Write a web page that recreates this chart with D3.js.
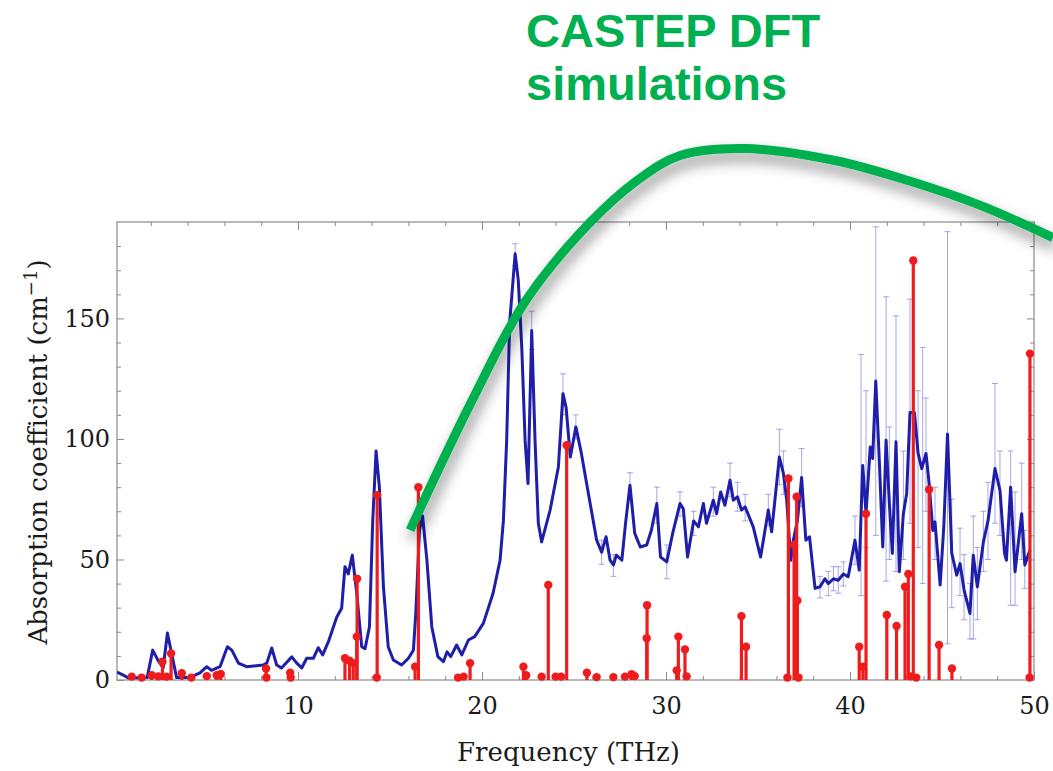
<!DOCTYPE html>
<html>
<head>
<meta charset="utf-8">
<script src="https://cdn.jsdelivr.net/npm/d3@7"></script>
<style>
  body { margin: 0; background: #fff; }
  .tick-label text { font-family: 'DejaVu Serif', serif; font-size: 24px; fill: #1a1a1a; }
  .axis-title { font-family: 'DejaVu Serif', serif; font-size: 26px; fill: #1a1a1a; }
  .note { font-family: 'Liberation Sans', Arial, sans-serif; font-weight: bold; font-size: 47px; fill: #00b050; }
</style>
</head>
<body>
<div id="chart"></div>
<script>
// measured spectrum (blue)
var blueFreq = [0.16, 0.5, 0.8, 1.8, 2.1, 2.4, 2.67, 2.9, 3.13, 3.4, 4.1, 4.67, 5.04, 5.3, 5.76, 6.16, 6.4, 6.76, 7.2, 8.1,
  8.3, 8.57, 8.84, 9.1, 9.66, 9.93, 10.2, 10.47, 10.83, 11.1, 11.34, 11.65, 12.1, 12.37, 12.55, 12.73, 12.95, 13.19, 13.46, 13.64,
  13.88, 14.06, 14.24, 14.42, 14.64, 14.9, 15.18, 15.63, 16.0, 16.27, 16.4, 16.6, 16.77, 17.0, 17.27, 17.6, 17.9, 18.1, 18.3, 18.62,
  18.9, 19.26, 19.6, 20.07, 20.6, 20.98, 21.16, 21.34, 21.5, 21.8, 21.97, 22.16, 22.34, 22.5, 22.7, 22.88, 23.06, 23.24, 23.7, 24.15,
  24.4, 24.57, 24.8, 25.1, 25.4, 25.78, 26.23, 26.5, 26.74, 26.96, 27.14, 27.3, 27.6, 27.8, 28.04, 28.3, 28.6, 28.95, 29.2, 29.5,
  29.7, 30.04, 30.36, 30.76, 30.94, 31.17, 31.5, 31.76, 32.03, 32.2, 32.57, 32.75, 32.97, 33.2, 33.48, 33.66, 33.88, 34.1, 34.3, 34.74,
  35.14, 35.56, 35.74, 36.16, 36.38, 36.56, 36.78, 36.92, 37.14, 37.37, 37.6, 37.8, 38.1, 38.37, 38.64, 38.82, 39.1, 39.36, 39.64, 39.9,
  40.27, 40.5, 40.69, 40.87, 41.1, 41.23, 41.4, 41.6, 41.78, 41.96, 42.14, 42.3, 42.5, 42.68, 42.9, 43.08, 43.26, 43.5, 43.7, 43.9,
  44.13, 44.3, 44.5, 44.62, 44.9, 45.1, 45.3, 45.53, 45.8, 45.98, 46.2, 46.52, 46.7, 46.92, 47.25, 47.5, 47.88, 48.15, 48.4, 48.5,
  48.73, 48.97, 49.33, 49.5, 49.78];
var blueAbs = [3.3, 2, 0.8, 1, 12.4, 8, 5, 19.5, 11, 1, 1, 3, 5.5, 4, 5.5, 13.8, 12.4, 7, 5.5, 6.2,
  7, 13.3, 6.2, 5, 9.6, 7, 5, 9, 9, 13.4, 10.4, 15.9, 26, 29.8, 47, 44, 51.8, 36, 13.8, 13,
  22, 66, 95, 80, 38.7, 13.8, 8.3, 6.2, 9, 12.4, 27.6, 62, 68, 50, 22, 9.7, 7.6, 11.7, 9.7, 14.5,
  10.4, 16.6, 18, 23.5, 36, 49.7, 66, 99.5, 148, 176.8, 165.8, 138, 99.5, 81.5, 145, 99.5, 65, 57.3, 70.5, 88.4,
  118.8, 113, 92.5, 105, 94, 77.4, 58, 53, 59.4, 49.7, 47.7, 51.8, 49.7, 65, 80.8, 60.8, 55.2, 56, 62, 73.2,
  51, 49, 60.8, 73.2, 71, 51, 66, 63.5, 73.2, 65, 74.6, 69, 78, 72.5, 82.9, 74.6, 76, 70.5, 71.8, 63.5,
  51, 70.5, 61.5, 92.5, 85.7, 74.6, 49.7, 58, 66, 84, 58, 59.4, 38, 38.7, 42, 40, 42, 41.4, 44, 42.8,
  58, 45.6, 89, 69, 96.7, 91.9, 124, 89.8, 55.2, 99.5, 73.2, 52.5, 98.8, 44.9, 69, 77.4, 111, 111, 94, 87.7,
  94, 81.5, 62, 65.6, 39.4, 64, 102, 52.5, 43.5, 48.3, 37.3, 27.6, 51.8, 38.7, 57.3, 66, 87.7, 78.7, 52.5, 49.7,
  80, 44.9, 69, 47.7, 53.9];

// error bars on the measured spectrum
var errFreq = [21.8, 22.7, 24.4, 25.1, 26.5, 27.14, 28.04, 29.5, 30.04, 30.76, 31.5, 32.57, 33.48, 33.88, 34.3, 35.56, 36.16, 36.38, 37.37, 38.37,
  38.82, 39.1, 39.36, 39.64, 40.27, 40.6, 40.87, 41.4, 41.96, 42.14, 42.5, 42.9, 43.26, 43.7, 43.95, 44.13, 44.62, 45.3, 45.53, 45.98,
  46.2, 46.52, 46.7, 46.92, 47.25, 47.5, 47.88, 48.15, 48.73, 48.97, 49.33, 49.5];
var errLow = [172, 137, 110, 100, 48, 43, 75, 65, 42, 68, 60, 68, 76, 70, 66, 64, 81, 77, 72, 34,
  35, 37, 36, 39, 48, 35, 55, 60, 41, 50, 45, 50, 65, 55, 40, 70, 50, 15, 30, 35,
  25, 17, 17, 25, 45, 50, 65, 60, 31, 31, 50, 38];
var errHigh = [181, 153, 127, 110, 58, 52, 86, 80, 56, 78, 70, 80, 90, 82, 77, 77, 104, 95, 96, 43,
  45, 47, 47, 49, 68, 135, 120, 188, 159, 105, 151, 95, 158, 120, 138, 117, 80, 186, 75, 63,
  52, 40, 68, 55, 70, 82, 123, 95, 95, 78, 90, 62];

// CASTEP DFT modes (red stems)
var stemFreq = [0.96, 1.5, 2.05, 2.4, 2.63, 2.86, 3.1, 3.68, 4.2, 5.04, 5.58, 5.8, 8.26, 8.28, 9.57, 9.6, 12.55, 12.8, 13.0, 13.19,
  13.21, 14.28, 14.3, 16.36, 16.54, 18.7, 19.0, 19.35, 22.25, 22.4, 23.24, 23.6, 24.0, 24.3, 24.6, 25.7, 26.23, 27.14, 27.77, 28.13,
  28.3, 28.95, 28.97, 30.58, 30.67, 31.03, 31.12, 34.1, 34.35, 36.6, 36.65, 36.96, 37.1, 37.14, 37.2, 40.5, 40.7, 40.87, 42.0, 42.53,
  42.99, 43.17, 43.3, 43.44, 43.6, 44.3, 44.84, 45.54, 49.76, 49.78];
var stemAbs = [1.4, 1, 2, 1.5, 7.6, 1.4, 11, 2.8, 1, 1.6, 2, 2.5, 4.8, 1, 3, 1, 9, 8, 7, 18,
  42, 1, 76.7, 5.5, 80, 1, 1.4, 7, 5.5, 2, 1.4, 39.4, 1.4, 1.4, 97.4, 3, 1.2, 1.2, 1.4, 2.4,
  1.6, 17.3, 31, 4, 18, 12.7, 1.5, 26.5, 13.8, 1, 83.6, 56, 76, 33, 1, 13.8, 5.5, 69, 27, 22.4,
  38.7, 44, 1.5, 174, 1, 79, 14.5, 4.8, 1, 135.4];

var xTicks = [10, 20, 30, 40, 50];
var xMinorTicks = [2, 4, 6, 8, 12, 14, 16, 18, 22, 24, 26, 28, 32, 34, 36, 38, 42, 44, 46, 48];
var yTicks = [0, 50, 100, 150];
var yMinorTicks = [10, 20, 30, 40, 60, 70, 80, 90, 110, 120, 130, 140, 160, 170, 180];

// green annotation curve, in data units
var noteFreq = [16.09, 19.46, 22.39, 25.87, 28.42, 30.76, 34.29, 39.18, 43.15, 47.12, 51.03];
var noteAbs = [62.2, 116, 157.5, 189.8, 207.2, 217.6, 220.5, 215.5, 207.2, 196.8, 183.5];
var noteLines = ['CASTEP DFT', 'simulations'];

var margin = { top: 222, right: 19, bottom: 91, left: 117 },
    width = 1053 - margin.left - margin.right,
    height = 771 - margin.top - margin.bottom;

var svg = d3.select('#chart').append('svg')
    .attr('width', 1053)
    .attr('height', 771);

var defs = svg.append('defs');

defs.append('clipPath')
    .attr('id', 'plot-clip')
    .append('rect')
    .attr('width', width)
    .attr('height', height);

// the curve lives inside the translated plot group, so the region is shifted back
defs.append('filter')
    .attr('id', 'shadow')
    .attr('filterUnits', 'userSpaceOnUse')
    .attr('x', -margin.left).attr('y', -margin.top)
    .attr('width', 1053).attr('height', 771)
    .append('feDropShadow')
    .attr('dx', 3)
    .attr('dy', 8)
    .attr('stdDeviation', 7)
    .attr('flood-color', '#000')
    .attr('flood-opacity', 0.45);

var plot = svg.append('g')
    .attr('transform', 'translate(' + margin.left + ',' + margin.top + ')');

var x = d3.scaleLinear()
    .domain([0.16, 50])
    .range([0, width]);

var y = d3.scaleLinear()
    .domain([0, 190])
    .range([height, 0]);

var drawAxes = function () {
  var tickColor = '#8a8a8a';

  var addAxis = function (axis, transform, cls) {
    var g = plot.append('g')
        .attr('class', cls || '')
        .attr('transform', transform)
        .call(axis);
    g.select('.domain').remove();
    g.selectAll('.tick line').attr('stroke', tickColor);
    return g;
  };

  addAxis(d3.axisBottom(x).tickValues(xTicks).tickSizeInner(-8).tickPadding(17)
      .tickFormat(d3.format('d')), 'translate(0,' + height + ')', 'tick-label');
  addAxis(d3.axisBottom(x).tickValues(xMinorTicks).tickSizeInner(-4).tickFormat(''),
      'translate(0,' + height + ')');
  addAxis(d3.axisTop(x).tickValues(xTicks).tickSizeInner(-8).tickFormat(''), 'translate(0,0)');
  addAxis(d3.axisTop(x).tickValues(xMinorTicks).tickSizeInner(-4).tickFormat(''), 'translate(0,0)');

  addAxis(d3.axisLeft(y).tickValues(yTicks).tickSizeInner(-7).tickPadding(7)
      .tickFormat(d3.format('d')), 'translate(0,0)', 'tick-label');
  addAxis(d3.axisLeft(y).tickValues(yMinorTicks).tickSizeInner(-4).tickFormat(''), 'translate(0,0)');
  addAxis(d3.axisRight(y).tickValues(yTicks).tickSizeInner(-7).tickFormat(''), 'translate(' + width + ',0)');
  addAxis(d3.axisRight(y).tickValues(yMinorTicks).tickSizeInner(-4).tickFormat(''), 'translate(' + width + ',0)');

  plot.append('rect')
      .attr('width', width)
      .attr('height', height)
      .attr('fill', 'none')
      .attr('stroke', tickColor)
      .attr('stroke-width', 1.2);

  plot.append('text')
      .attr('class', 'axis-title')
      .attr('x', width / 2 - 7)
      .attr('y', height + 81)
      .attr('text-anchor', 'middle')
      .text('Frequency (THz)');

  var yTitle = plot.append('text')
      .attr('class', 'axis-title')
      .attr('transform', 'translate(-70,' + (height / 2 + 1) + ') rotate(-90)')
      .attr('text-anchor', 'middle');
  yTitle.append('tspan').text('Absorption coefficient (cm');
  yTitle.append('tspan').attr('dy', -10).style('font-size', '18px').text('\u22121');
  yTitle.append('tspan').attr('dy', 10).text(')');
}

var drawErrorBars = function () {
  var g = plot.append('g')
      .attr('clip-path', 'url(#plot-clip)')
      .attr('stroke', '#6a6ad8')
      .attr('stroke-opacity', 0.6)
      .attr('stroke-width', 1);

  var bars = g.selectAll('.err')
      .data(errFreq)
      .enter()
      .append('g')
      .attr('class', 'err');

  bars.append('line')
      .attr('x1', function (d) { return x(d); })
      .attr('x2', function (d) { return x(d); })
      .attr('y1', function (d, i) { return y(errLow[i]); })
      .attr('y2', function (d, i) { return y(errHigh[i]); });

  [errLow, errHigh].forEach(function (arr) {
    bars.append('line')
        .attr('x1', function (d) { return x(d) - 3; })
        .attr('x2', function (d) { return x(d) + 3; })
        .attr('y1', function (d, i) { return y(arr[i]); })
        .attr('y2', function (d, i) { return y(arr[i]); });
  });
}

var drawSpectrum = function () {
  var line = d3.line()
      .x(function (d) { return x(d); })
      .y(function (d, i) { return y(blueAbs[i]); });

  plot.append('path')
      .datum(blueFreq)
      .attr('clip-path', 'url(#plot-clip)')
      .attr('d', line)
      .attr('fill', 'none')
      .attr('stroke', '#1e1eaa')
      .attr('stroke-width', 3)
      .attr('stroke-linejoin', 'round');
}

var drawStems = function () {
  var stems = plot.append('g')
      .selectAll('.stem')
      .data(stemFreq)
      .enter()
      .append('g')
      .attr('class', 'stem');

  stems.append('line')
      .attr('x1', function (d) { return x(d); })
      .attr('x2', function (d) { return x(d); })
      .attr('y1', y(0))
      .attr('y2', function (d, i) { return y(stemAbs[i]); })
      .attr('stroke', '#ee1c1c')
      .attr('stroke-width', 3.2);

  stems.append('circle')
      .attr('cx', function (d) { return x(d); })
      .attr('cy', function (d, i) { return y(stemAbs[i]); })
      .attr('r', 4.2)
      .attr('fill', '#ee1c1c');
}

var drawNote = function () {
  var curve = d3.line()
      .x(function (d) { return x(d); })
      .y(function (d, i) { return y(noteAbs[i]); })
      .curve(d3.curveCatmullRom.alpha(0.5));

  plot.append('path')
      .datum(noteFreq)
      .attr('d', curve)
      .attr('fill', 'none')
      .attr('stroke', '#00b050')
      .attr('stroke-width', 9)
      .attr('filter', 'url(#shadow)');

  svg.selectAll('.note')
      .data(noteLines)
      .enter()
      .append('text')
      .attr('class', 'note')
      .attr('x', 526)
      .attr('y', function (d, i) { return 47 + i * 53; })
      .text(function (d) { return d; });
}

drawAxes();
drawErrorBars();
drawSpectrum();
drawStems();
drawNote();
</script>
</body>
</html>
